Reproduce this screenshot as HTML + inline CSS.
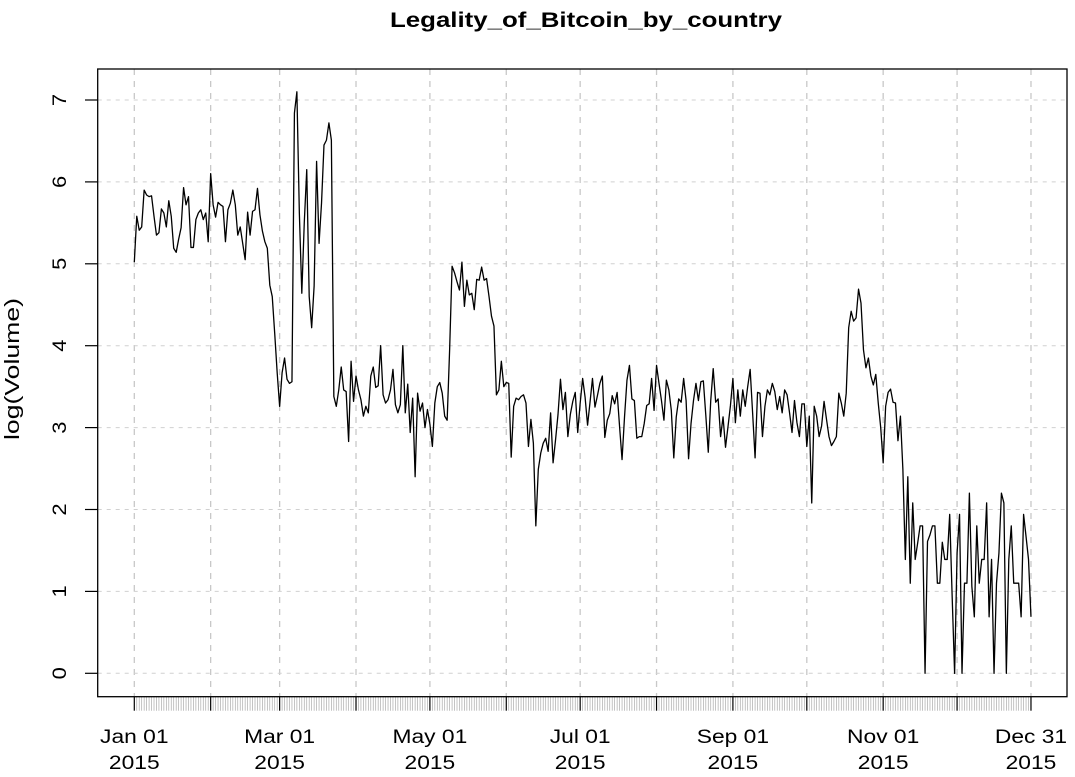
<!DOCTYPE html>
<html><head><meta charset="utf-8"><style>
body{margin:0;background:#fff;}
svg{display:block;font-family:"Liberation Sans",Arial,sans-serif;}
</style></head><body>
<svg id="chart" width="1075" height="777" viewBox="0 0 1075 777" xmlns="http://www.w3.org/2000/svg">
<text x="586" y="27" text-anchor="middle" font-size="21" font-weight="bold" textLength="392" lengthAdjust="spacingAndGlyphs">Legality_of_Bitcoin_by_country</text>
<text transform="translate(19,369) rotate(-90)" text-anchor="middle" font-size="20" textLength="142" lengthAdjust="spacingAndGlyphs">log(Volume)</text>
<g id="grid"></g>
<g id="xaxis"></g>
<g id="yaxis"></g>
<g id="series"></g>
<rect x="97.7" y="69" width="969.3" height="627.7" fill="none" stroke="#000" stroke-width="1.3"/>
</svg>
<script>
const values = [
5.02,5.58,5.41,5.45,5.9,5.84,5.82,5.83,5.58,5.35,5.38,5.67,5.62,5.45,5.77,5.58,5.19,5.14,5.3,5.44,5.93,5.72,5.82,5.2,5.2,5.54,5.62,5.66,5.54,5.62,5.27,
6.1,5.72,5.57,5.75,5.72,5.7,5.27,5.66,5.74,5.9,5.72,5.35,5.45,5.25,5.05,5.63,5.35,5.64,5.66,5.92,5.6,5.4,5.27,5.19,4.74,4.6,4.15,3.67,
3.26,3.67,3.85,3.59,3.54,3.56,6.84,7.1,5.62,4.64,5.5,6.15,4.6,4.22,4.73,6.25,5.25,5.74,6.45,6.51,6.72,6.51,3.38,3.26,3.46,3.74,3.46,3.44,2.83,3.81,3.32,
3.63,3.46,3.34,3.14,3.26,3.18,3.63,3.74,3.49,3.51,4.0,3.4,3.3,3.34,3.46,3.71,3.28,3.18,3.28,4.0,3.18,3.53,2.94,3.36,2.4,3.42,3.2,3.3,3.0,3.22,
3.04,2.77,3.3,3.5,3.55,3.42,3.14,3.09,3.95,4.97,4.89,4.78,4.68,5.02,4.48,4.8,4.62,4.64,4.44,4.81,4.8,4.96,4.8,4.82,4.6,4.36,4.24,3.4,3.46,3.81,3.5,
3.55,3.54,2.64,3.26,3.36,3.34,3.38,3.4,3.3,2.77,3.1,2.81,1.8,2.49,2.69,2.81,2.87,2.71,3.18,2.57,2.85,3.16,3.59,3.22,3.43,2.89,3.16,3.32,3.43,2.94,
3.3,3.6,3.37,3.03,3.31,3.6,3.25,3.39,3.54,3.63,2.88,3.09,3.17,3.39,3.29,3.43,3.01,2.61,3.13,3.58,3.76,3.35,3.33,2.87,2.89,2.89,3.05,3.27,3.29,3.6,3.21,
3.76,3.54,3.33,3.09,3.58,3.46,3.21,2.63,3.13,3.35,3.31,3.6,3.33,2.62,3.05,3.33,3.54,3.33,3.56,3.57,3.15,2.7,3.33,3.72,3.31,3.35,2.89,3.13,2.76,3.01,3.27,
3.6,3.06,3.46,3.14,3.46,3.26,3.5,3.71,3.18,2.63,3.43,3.42,2.89,3.26,3.46,3.4,3.54,3.44,3.22,3.38,3.18,3.46,3.4,3.18,2.94,3.33,3.06,2.89,3.29,3.29,
2.77,3.14,2.08,3.26,3.14,2.89,3.02,3.32,3.1,2.89,2.78,2.83,2.89,3.42,3.3,3.14,3.42,4.22,4.42,4.3,4.34,4.69,4.52,3.95,3.73,3.85,3.63,3.52,3.65,3.3,3.0,2.57,
3.26,3.43,3.47,3.31,3.3,2.84,3.14,2.49,1.39,2.4,1.1,2.08,1.39,1.59,1.8,1.8,0,1.61,1.69,1.8,1.8,1.1,1.1,1.6,1.39,1.39,1.94,0.94,0,1.47,
1.94,0,1.1,1.1,2.2,1.06,0.69,1.8,1.1,1.39,1.39,2.08,0.69,1.39,0,1.1,1.47,2.2,2.08,0,1.39,1.8,1.1,1.1,1.1,0.69,1.94,1.67,1.39,0.69
];
const monthStarts = [0,31,59,90,120,151,181,212,243,273,304,334,364];
const xLabelDays = [0,59,120,181,243,304,364];
const xLabels = ["Jan 01","Mar 01","May 01","Jul 01","Sep 01","Nov 01","Dec 31"];
const yTicks = [0,1,2,3,4,5,6,7];

const NS="http://www.w3.org/2000/svg";
const xs = d => 134.3 + d*2.4634;
const ys = v => 673.3 - v*81.9;
function mk(tag, attrs, parent){const e=document.createElementNS(NS,tag);for(const k in attrs)e.setAttribute(k,attrs[k]);parent.appendChild(e);return e;}
function stretch(t,f){const w=t.getComputedTextLength();t.setAttribute('textLength',(w*f).toFixed(1));t.setAttribute('lengthAdjust','spacingAndGlyphs');}
const grid=document.getElementById('grid'), xa=document.getElementById('xaxis'), ya=document.getElementById('yaxis'), ser=document.getElementById('series');

monthStarts.forEach(d=>{
  const l=mk('line',{x1:xs(d),x2:xs(d),y1:69,y2:696.7,stroke:'#c8c8c8','stroke-width':1.3,'stroke-dasharray':'6,6'},grid);
  
  
});
yTicks.forEach(v=>{
  const l=mk('line',{x1:97.7,x2:1067,y1:ys(v),y2:ys(v),stroke:'#d0d0d0','stroke-width':1,'stroke-dasharray':'4,5'},grid);
  
  
  const t=mk('line',{x1:85,x2:97.7,y1:ys(v),y2:ys(v),stroke:'#000','stroke-width':1.2},ya);
  
  
  const tx=mk('text',{transform:`translate(66,${ys(v)}) rotate(-90)`,'text-anchor':'middle','font-size':19},ya);
  tx.textContent=v;
  
  
  stretch(tx,1.15);
});
for(let d=0; d<values.length; d++){
  const major=monthStarts.includes(d);
  const t=mk('line',{x1:xs(d),x2:xs(d),y1:696.7,y2:710.7,stroke:major?'#000':'#aaa','stroke-width':major?1.2:0.7},xa);
  
  
}
xLabelDays.forEach((d,i)=>{
  const t1=mk('text',{x:xs(d),y:743,'text-anchor':'middle','font-size':19},xa);
  t1.textContent=xLabels[i];
  
  
  stretch(t1,1.2);
  const t2=mk('text',{x:xs(d),y:769,'text-anchor':'middle','font-size':19},xa);
  t2.textContent='2015';
  
  
  stretch(t2,1.2);
});
const pts=values.map((v,i)=>xs(i).toFixed(2)+','+ys(v).toFixed(2)).join(' ');
const pl=mk('polyline',{points:pts,fill:'none',stroke:'#000','stroke-width':1.3,'stroke-linejoin':'round'},ser);


</script>
</body></html>
